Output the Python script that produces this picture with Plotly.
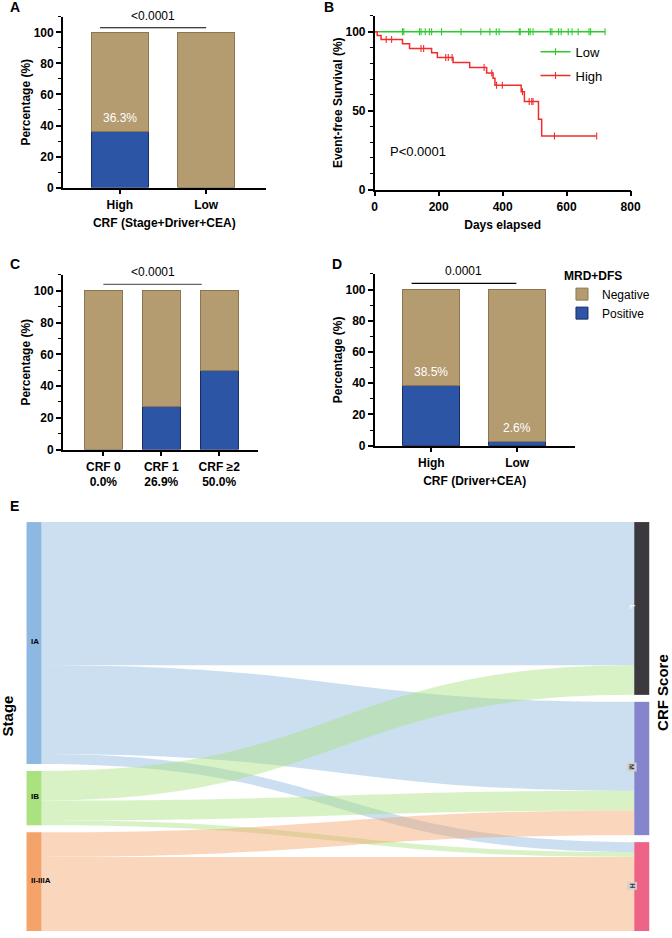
import numpy as np
import plotly.graph_objects as go

FONT = "Liberation Sans, Arial, sans-serif"
TAN, TAN_LINE = "#B59B70", "#8C7651"
BLUE, BLUE_LINE = "#2C56A5", "#1A2D5E"
RED, GREEN = "#F22B2B", "#2BCB2B"

# ---------------- data ----------------
# Panel A
a_cats = ["High", "Low"]
a_pos = [36.3, 0.0]
a_neg = [63.7, 100.0]
a_lab = ["36.3%", ""]
a_p = "<0.0001"

# Panel B (Kaplan-Meier)
high_t = [0, 8, 20, 87, 109, 178, 196, 245, 297, 350, 370, 376, 458, 468, 512, 522, 694]
high_s = [100, 97.5, 95.0, 92.4, 89.3, 86.7, 83.6, 80.4, 77.3, 73.9, 70.5, 66.1, 61.9, 55.8, 44.6, 33.9, 33.9]
high_cens = [36, 53, 145, 153, 222, 230, 242, 342, 366, 381, 399, 462, 483, 491, 495, 562, 694]
low_t = [0, 720]
low_s = [100, 100]
low_cens = [87, 91, 140, 145, 158, 171, 178, 209, 270, 332, 360, 380, 389, 452, 455,
            481, 486, 495, 549, 554, 575, 583, 605, 617, 636, 670, 675, 720]
b_p = "P<0.0001"

# Panel C
c_cats = ["CRF 0", "CRF 1", "CRF ≥2"]
c_pct = ["0.0%", "26.9%", "50.0%"]
c_pos = [0.0, 26.9, 50.0]
c_neg = [100.0, 73.1, 50.0]
c_p = "<0.0001"

# Panel D
d_cats = ["High", "Low"]
d_pos = [38.5, 2.6]
d_neg = [61.5, 97.4]
d_lab = ["38.5%", "2.6%"]
d_p = "0.0001"

# Panel E (Sankey)
stages = ["IA", "IB", "II-IIIA"]
scores = ["L", "M", "H"]
flow_src = [0, 0, 0, 1, 1, 1, 2, 2]
flow_tgt = [0, 1, 2, 0, 1, 2, 1, 2]
flow_n = [29, 18, 2, 6, 4, 1, 5, 15]

stage_col = ["#8DB8E1", "#A9E27F", "#F4A36A"]
score_col = ["#3B393D", "#8585CE", "#EE6487"]
link_rgb = [(141, 184, 225), (169, 226, 127), (244, 163, 106)]

W, H = 672, 938
def px(x): return x / W
def py(y): return min(max(1 - y / H, 0.0), 1.0)

fig = go.Figure()

# ---------- bar panels ----------
def add_bars(cats, pos, neg, xa, ya, legend_on):
    fig.add_trace(go.Bar(x=cats, y=pos, name="Positive", marker=dict(color=BLUE, line=dict(color=BLUE_LINE, width=1)),
                         width=0.66, xaxis=xa, yaxis=ya, showlegend=legend_on, legend="legend", hoverinfo="skip"))
    fig.add_trace(go.Bar(x=cats, y=neg, name="Negative", marker=dict(color=TAN, line=dict(color=TAN_LINE, width=1)),
                         width=0.66, xaxis=xa, yaxis=ya, showlegend=legend_on, legend="legend", hoverinfo="skip"))

add_bars(a_cats, a_pos, a_neg, "x", "y", False)
add_bars(c_cats, c_pos, c_neg, "x3", "y3", False)
add_bars(d_cats, d_pos, d_neg, "x4", "y4", True)

# ---------- KM panel ----------
def step_val(t_arr, s_arr, t):
    i = np.searchsorted(np.array(t_arr), t, side="right") - 1
    return s_arr[max(i, 0)]

fig.add_trace(go.Scatter(x=low_t, y=low_s, mode="lines", line=dict(color=GREEN, width=1.5, shape="hv"),
                         xaxis="x2", yaxis="y2", showlegend=False, hoverinfo="skip"))
fig.add_trace(go.Scatter(x=low_cens, y=[step_val(low_t, low_s, t) for t in low_cens], mode="markers",
                         marker=dict(symbol="line-ns", size=5, line=dict(color=GREEN, width=1.1)),
                         xaxis="x2", yaxis="y2", showlegend=False, hoverinfo="skip"))
fig.add_trace(go.Scatter(x=high_t, y=high_s, mode="lines", line=dict(color=RED, width=1.5, shape="hv"),
                         xaxis="x2", yaxis="y2", showlegend=False, hoverinfo="skip"))
fig.add_trace(go.Scatter(x=high_cens, y=[step_val(high_t, high_s, t) for t in high_cens], mode="markers",
                         marker=dict(symbol="line-ns", size=5, line=dict(color=RED, width=1.1)),
                         xaxis="x2", yaxis="y2", showlegend=False, hoverinfo="skip"))
for nm, col, grp in [("Low", GREEN, "g1"), ("High", RED, "g2")]:
    fig.add_trace(go.Scatter(x=[None], y=[None], mode="lines+markers", name=nm, legend="legend2", legendgroup=grp,
                             line=dict(color=col, width=1.5),
                             marker=dict(symbol="line-ns", size=5, line=dict(color=col, width=1.1)),
                             xaxis="x2", yaxis="y2"))

# ---------- Sankey ----------
sx0, sx1, sy0, sy1 = 27, 649, 524, 937      # target geometry of the node columns
pad, thick = 7, 15
fig.add_trace(go.Sankey(
    domain=dict(x=[px(sx0 - 3), px(sx1 + 10)], y=[0.0, py(sy0 + 2)]),
    arrangement="snap",
    node=dict(label=[""] * 6, pad=pad, thickness=thick, color=stage_col + score_col, line=dict(width=0)),
    link=dict(source=flow_src, target=[t + 3 for t in flow_tgt], value=flow_n,
              color=[f"rgba({link_rgb[s][0]},{link_rgb[s][1]},{link_rgb[s][2]},0.45)" for s in flow_src]),
    hoverinfo="skip",
))

# ---------- axes ----------
tf = dict(family=FONT, size=12, color="black", weight="bold")
def yax(dom, anchor, dtick, title):
    return dict(domain=dom, anchor=anchor, range=[0, 110], tick0=0, dtick=dtick, ticks="outside", ticklen=5,
                tickwidth=1.5, tickcolor="black", showline=True, linecolor="black", linewidth=1.5,
                showgrid=False, zeroline=False, tickfont=tf,
                minor=dict(dtick=10, tick0=0, ticks="outside", ticklen=3, tickwidth=1.2, tickcolor="black", showgrid=False),
                title=dict(text=title, font=tf, standoff=0))

def xax_cat(dom, anchor, rng, title=None, tickvals=None, ticktext=None):
    d = dict(domain=dom, anchor=anchor, type="category", range=rng, ticks="outside", ticklen=5, tickwidth=1.5,
             tickcolor="black", showline=True, linecolor="black", linewidth=1.5, showgrid=False, zeroline=False,
             tickfont=tf)
    if title:
        d["title"] = dict(text=title, font=tf, standoff=8)
    if tickvals is not None:
        d["tickvals"] = tickvals
        d["ticktext"] = ticktext
    return d

layout = dict(
    width=W, height=H, margin=dict(l=0, r=0, t=0, b=0), paper_bgcolor="white", plot_bgcolor="white",
    barmode="stack", font=dict(family=FONT, color="black"),
    xaxis=xax_cat([px(61), px(268)], "y", [-0.66, 1.69], "CRF (Stage+Driver+CEA)"),
    yaxis=yax([py(189), py(17)], "x", 20, "Percentage (%)"),
    xaxis2=dict(domain=[px(379), px(640)], anchor="y2", range=[0, 800], dtick=200, ticks="outside", ticklen=5,
                tickwidth=1.5, tickcolor="black", showline=True, linecolor="black", linewidth=1.5, showgrid=False,
                zeroline=False, tickfont=tf, title=dict(text="Days elapsed", font=tf, standoff=8)),
    yaxis2=yax([py(191), py(16)], "x2", 50, "Event-free Survival (%)"),
    xaxis3=xax_cat([px(61), px(260)], "y3", [-0.70, 2.67], None,
                   tickvals=c_cats, ticktext=[f"{c}<br>{p}" for c, p in zip(c_cats, c_pct)]),
    yaxis3=yax([py(453), py(277)], "x3", 20, "Percentage (%)"),
    xaxis4=xax_cat([px(379), px(583)], "y4", [-0.66, 1.67], "CRF (Driver+CEA)"),
    yaxis4=yax([py(449), py(276)], "x4", 20, "Percentage (%)"),
    legend=dict(x=px(570), y=py(266), xanchor="left", yanchor="top", traceorder="reversed",
                title=dict(text="<b>MRD+DFS</b>", font=dict(family=FONT, size=12)),
                font=dict(family=FONT, size=12), bgcolor="rgba(0,0,0,0)"),
    legend2=dict(x=px(543), y=py(37), xanchor="left", yanchor="top", tracegroupgap=4,
                 font=dict(family=FONT, size=13), bgcolor="rgba(0,0,0,0)"),
)
fig.update_layout(**layout)

ann = []
shapes = []
pfont = dict(family=FONT, size=12, color="black")
# significance bars
for xr, yr, x0, x1, yv, txt, col in [("x", "y", -0.23, 1.0, 103, a_p, "black"),
                                      ("x3", "y3", 0.0, 1.7, 104, c_p, "#666666"),
                                      ("x4", "y4", -0.23, 0.99, 104, d_p, "black")]:
    shapes.append(dict(type="line", xref=xr, yref=yr, x0=x0, x1=x1, y0=yv, y1=yv, line=dict(color=col, width=1.2)))
    ann.append(dict(xref=xr, yref=yr, x=(x0 + x1) / 2, y=yv + 2, text=txt, showarrow=False, yanchor="bottom", font=pfont))
# bar value labels
for xr, yr, cats, pos, labs in [("x", "y", a_cats, a_pos, a_lab), ("x4", "y4", d_cats, d_pos, d_lab)]:
    for c, v, l in zip(cats, pos, labs):
        if l:
            ann.append(dict(xref=xr, yref=yr, x=c, y=v + 8.5, text=l, showarrow=False,
                            font=dict(family=FONT, size=12, color="white")))
ann.append(dict(xref="x2", yref="y2", x=43, y=24, text=b_p, showarrow=False, xanchor="left",
                font=dict(family=FONT, size=13, color="black")))
# panel letters
for t, x, y in [("A", 5, 7), ("B", 325, 7), ("C", 5, 266), ("D", 333, 266), ("E", 5, 510)]:
    ann.append(dict(xref="paper", yref="paper", x=px(x), y=py(y), text=f"<b>{t}</b>", showarrow=False,
                    xanchor="left", yanchor="middle", font=dict(family=FONT, size=14, color="black")))
# sankey side titles
ann.append(dict(xref="paper", yref="paper", x=px(9), y=py(721), text="<b>Stage</b>", textangle=-90, showarrow=False,
                xanchor="center", yanchor="middle", xshift=-4, font=dict(family=FONT, size=15, color="black")))
ann.append(dict(xref="paper", yref="paper", x=px(666), y=py(698), text="<b>CRF Score</b>", textangle=-90,
                xanchor="center", yanchor="middle", xshift=7, showarrow=False,
                font=dict(family=FONT, size=15, color="black")))
# sankey node labels, positioned from node totals
total = sum(flow_n)
ky = ((sy1 - sy0) - 2 * pad) / total
left_tot = [sum(n for s, n in zip(flow_src, flow_n) if s == i) for i in range(3)]
right_tot = [sum(n for t, n in zip(flow_tgt, flow_n) if t == i) for i in range(3)]
cum = 0
for i, name in enumerate(stages):
    cy = sy0 + cum + left_tot[i] * ky / 2
    cum += left_tot[i] * ky + pad
    ann.append(dict(xref="paper", yref="paper", x=px(sx0), y=py(cy), text=name, showarrow=False, xanchor="left",
                    yanchor="middle", font=dict(family=FONT, size=8, color="black", weight="bold")))
cum = 0
for i, name in enumerate(scores):
    cy = sy0 + cum + right_tot[i] * ky / 2
    cum += right_tot[i] * ky + pad
    ann.append(dict(xref="paper", yref="paper", x=px(sx1 - thick / 2), y=py(cy), text=name, showarrow=False,
                    textangle=90, xanchor="center", yanchor="middle",
                    font=dict(family=FONT, size=7, color="white" if i == 0 else "#333333", weight="bold"),
                    bgcolor=None if i == 0 else "rgba(210,210,210,0.9)"))
fig.update_layout(annotations=ann, shapes=shapes)

fig.write_html("out.html")
